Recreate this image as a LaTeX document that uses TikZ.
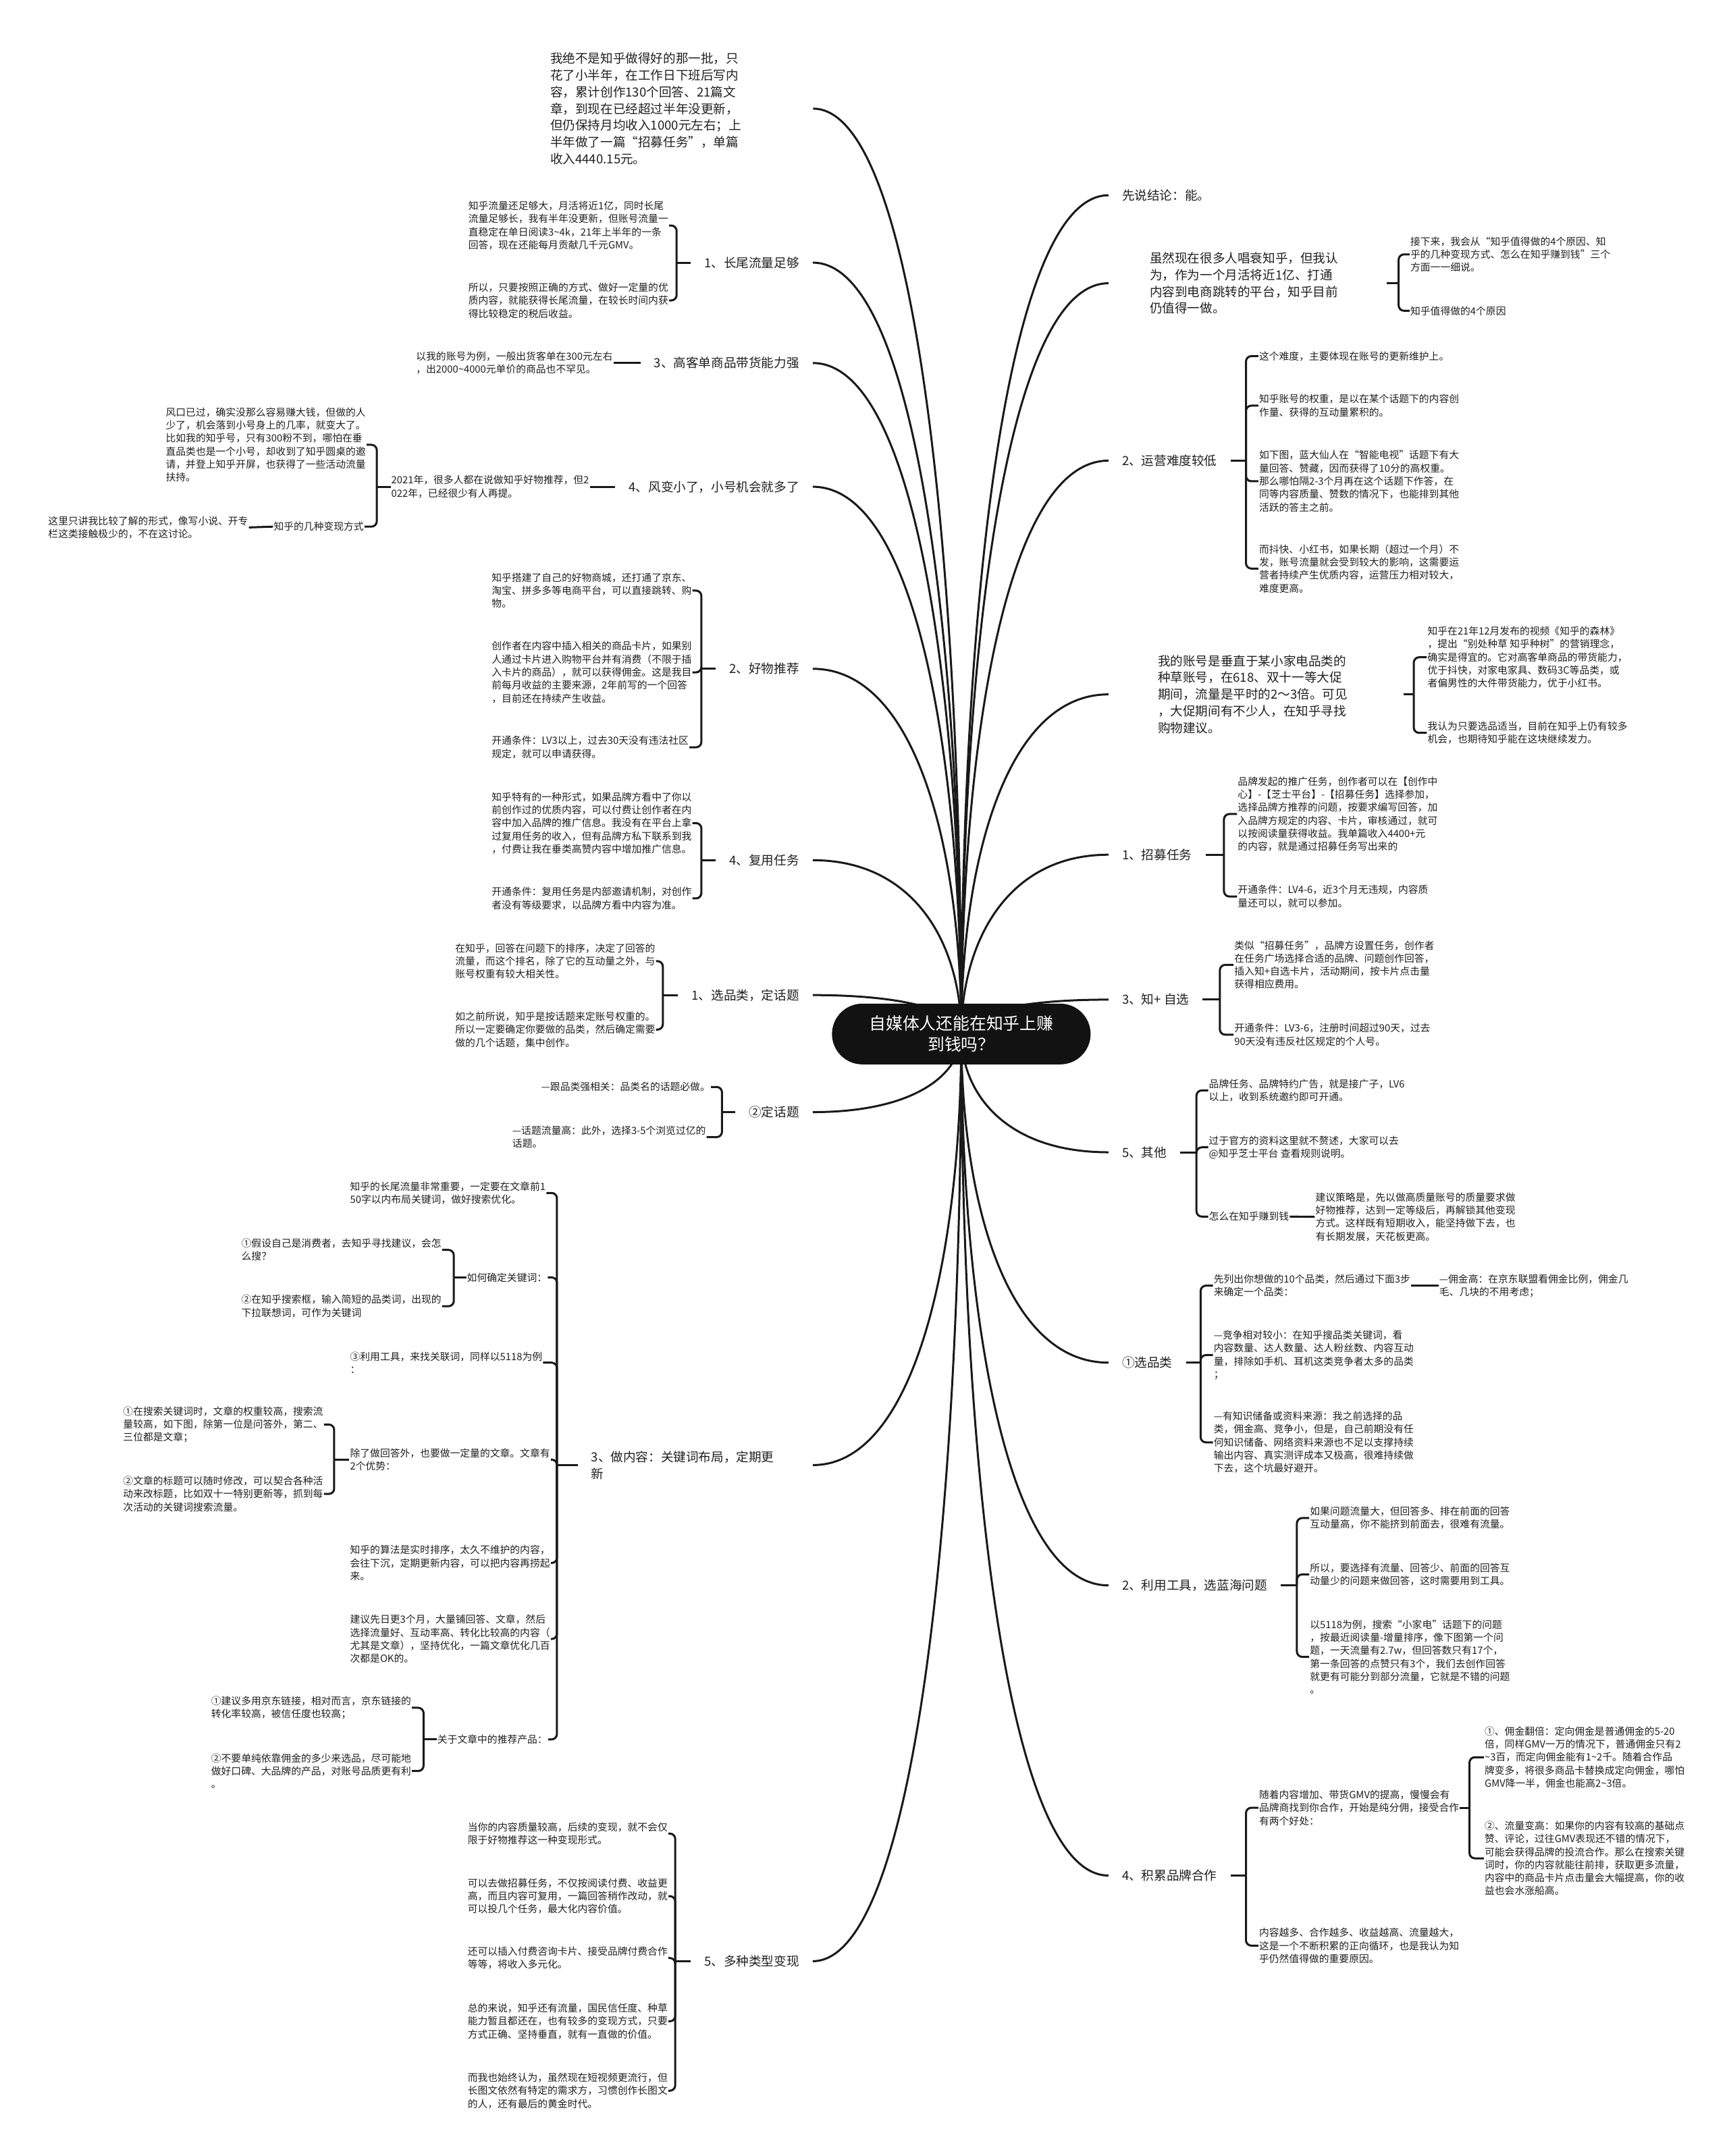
\documentclass[tikz,border=0pt]{standalone}
\usepackage{fontspec}
\setmainfont{Noto Sans CJK SC}
\usetikzlibrary{calc,backgrounds}

\tikzset{
  limb/.style={line width=3pt, draw=black!90},
  tie/.style={line width=3pt, draw=black!90, rounded corners=8pt},
  hubnode/.style={fill=black!93, text=white, rounded corners=45pt,
    minimum width=383pt, minimum height=90pt, align=center,
    font=\fontsize{24.8}{31}\selectfont},
  lead/.style={align=left, inner ysep=0pt, text=black!88,
    font=\fontsize{18.6}{24.8}\selectfont},
  branch/.style={align=left, inner xsep=20pt, inner ysep=2pt, text=black!88,
    font=\fontsize{18.6}{24.8}\selectfont},
  leaf/.style={align=left, inner sep=1pt, anchor=west, text=black!88,
    font=\fontsize{14.8}{19.3}\selectfont},
}

\begin{document}
\begin{tikzpicture}[x=2.0366pt, y=-2.0366pt]
\useasboundingbox (0,0) rectangle (1257,1568);

\node[hubnode] (hub) at (699,752) {自媒体人还能在知乎上赚\\到钱吗？};

% left branches
\node[lead, anchor=west, inner xsep=0pt, text width=389pt] (l1) at (400,79)
  {我绝不是知乎做得好的那一批，只\\花了小半年，在工作日下班后写内\\容，累计创作130个回答、21篇文\\章，到现在已经超过半年没更新，\\但仍保持月均收入1000元左右；上\\半年做了一篇“招募任务”，单篇\\收入4440.15元。};
\node[branch, anchor=east] (l2) at (591,191) {1、长尾流量足够};
\node[branch, anchor=east] (l3) at (591,264) {3、高客单商品带货能力强};
\node[branch, anchor=east] (l4) at (591,354) {4、风变小了，小号机会就多了};
\node[branch, anchor=east] (l5) at (591,486.4) {2、好物推荐};
\node[branch, anchor=east] (l6) at (591,625.6) {4、复用任务};
\node[branch, anchor=east] (l7) at (591,723.7) {1、选品类，定话题};
\node[branch, anchor=east] (l8) at (591,808.8) {②定话题};
\node[branch, anchor=west, text width=308pt] (l9) at (420,1065.5) {3、做内容：关键词布局，定期更\\新};
\node[branch, anchor=east] (l10) at (591,1426.3) {5、多种类型变现};

% right branches
\node[branch, anchor=west] (r1) at (806,142) {先说结论：能。};
\node[lead, anchor=west, inner xsep=61pt, text width=290pt] (r2) at (806,206)
  {虽然现在很多人唱衰知乎，但我认\\为，作为一个月活将近1亿、打通\\内容到电商跳转的平台，知乎目前\\仍值得一做。};
\node[branch, anchor=west] (r3) at (806,335) {2、运营难度较低};
\node[lead, anchor=west, inner xsep=73pt, text width=291pt] (r4) at (806,505)
  {我的账号是垂直于某小家电品类的\\种草账号，在618、双十一等大促\\期间，流量是平时的2～3倍。可见\\，大促期间有不少人，在知乎寻找\\购物建议。};
\node[branch, anchor=west] (r5) at (806,621.6) {1、招募任务};
\node[branch, anchor=west] (r6) at (806,727) {3、知+ 自选};
\node[branch, anchor=west] (r7) at (806,838) {5、其他};
\node[branch, anchor=west] (r8) at (806,991) {①选品类};
\node[branch, anchor=west] (r9) at (806,1153) {2、利用工具，选蓝海问题};
\node[branch, anchor=west] (r10) at (806,1364) {4、积累品牌合作};

% left leaves
\node[leaf] (c2a) at (340,164) {知乎流量还足够大，月活将近1亿，同时长尾\\流量足够长，我有半年没更新，但账号流量一\\直稳定在单日阅读3\textasciitilde4k，21年上半年的一条\\回答，现在还能每月贡献几千元GMV。};
\node[leaf] (c2b) at (340,218.5) {所以，只要按照正确的方式、做好一定量的优\\质内容，就能获得长尾流量，在较长时间内获\\得比较稳定的税后收益。};
\node[leaf] (c3) at (302,264) {以我的账号为例，一般出货客单在300元左右\\，出2000\textasciitilde4000元单价的商品也不罕见。};
\node[leaf] (c4) at (284,354) {2021年，很多人都在说做知乎好物推荐，但2\\022年，已经很少有人再提。};
\node[leaf] (c4a) at (120,323.5) {风口已过，确实没那么容易赚大钱，但做的人\\少了，机会落到小号身上的几率，就变大了。\\比如我的知乎号，只有300粉不到，哪怕在垂\\直品类也是一个小号，却收到了知乎圆桌的邀\\请，并登上知乎开屏，也获得了一些活动流量\\扶持。};
\node[leaf] (c4b) at (198.5,383) {知乎的几种变现方式};
\node[leaf] (c4c) at (34.5,383.6) {这里只讲我比较了解的形式，像写小说、开专\\栏这类接触极少的，不在这讨论。};
\node[leaf] (c5a) at (357,429.5) {知乎搭建了自己的好物商城，还打通了京东、\\淘宝、拼多多等电商平台，可以直接跳转、购\\物。};
\node[leaf] (c5b) at (357,489) {创作者在内容中插入相关的商品卡片，如果别\\人通过卡片进入购物平台并有消费（不限于插\\入卡片的商品），就可以获得佣金。这是我目\\前每月收益的主要来源，2年前写的一个回答\\，目前还在持续产生收益。};
\node[leaf] (c5c) at (357,543.5) {开通条件：LV3以上，过去30天没有违法社区\\规定，就可以申请获得。};
\node[leaf] (c6a) at (357,598.6) {知乎特有的一种形式，如果品牌方看中了你以\\前创作过的优质内容，可以付费让创作者在内\\容中加入品牌的推广信息。我没有在平台上拿\\过复用任务的收入，但有品牌方私下联系到我\\，付费让我在垂类高赞内容中增加推广信息。};
\node[leaf] (c6b) at (357,653.4) {开通条件：复用任务是内部邀请机制，对创作\\者没有等级要求，以品牌方看中内容为准。};
\node[leaf] (c7a) at (330.5,699) {在知乎，回答在问题下的排序，决定了回答的\\流量，而这个排名，除了它的互动量之外，与\\账号权重有较大相关性。};
\node[leaf] (c7b) at (330.5,748.8) {如之前所说，知乎是按话题来定账号权重的。\\所以一定要确定你要做的品类，然后确定需要\\做的几个话题，集中创作。};
\node[leaf] (c8a) at (393,790.5) {—跟品类强相关：品类名的话题必做。};
\node[leaf] (c8b) at (372,827) {—话题流量高：此外，选择3-5个浏览过亿的\\话题。};
\node[leaf] (c9a) at (254,867.6) {知乎的长尾流量非常重要，一定要在文章前1\\50字以内布局关键词，做好搜索优化。};
\node[leaf] (c9b) at (339,929) {如何确定关键词：};
\node[leaf] (c9b1) at (175,909) {①假设自己是消费者，去知乎寻找建议，会怎\\么搜？};
\node[leaf] (c9b2) at (175,950) {②在知乎搜索框，输入简短的品类词，出现的\\下拉联想词，可作为关键词};
\node[leaf] (c9c) at (254,991) {③利用工具，来找关联词，同样以5118为例\\：};
\node[leaf] (c9d) at (254,1061.5) {除了做回答外，也要做一定量的文章。文章有\\2个优势：};
\node[leaf] (c9d1) at (89,1036) {①在搜索关键词时，文章的权重较高，搜索流\\量较高，如下图，除第一位是问答外，第二、\\三位都是文章；};
\node[leaf] (c9d2) at (89,1086.5) {②文章的标题可以随时修改，可以契合各种活\\动来改标题，比如双十一特别更新等，抓到每\\次活动的关键词搜索流量。};
\node[leaf] (c9e) at (254,1136.7) {知乎的算法是实时排序，太久不维护的内容，\\会往下沉，定期更新内容，可以把内容再捞起\\来。};
\node[leaf] (c9f) at (254,1192) {建议先日更3个月，大量铺回答、文章，然后\\选择流量好、互动率高、转化比较高的内容（\\尤其是文章），坚持优化，一篇文章优化几百\\次都是OK的。};
\node[leaf] (c9g) at (317.5,1265) {关于文章中的推荐产品：};
\node[leaf] (c9g1) at (153,1242) {①建议多用京东链接，相对而言，京东链接的\\转化率较高，被信任度也较高；};
\node[leaf] (c9g2) at (153,1288) {②不要单纯依靠佣金的多少来选品，尽可能地\\做好口碑、大品牌的产品，对账号品质更有利\\。};
\node[leaf] (c10a) at (339.5,1333.5) {当你的内容质量较高，后续的变现，就不会仅\\限于好物推荐这一种变现形式。};
\node[leaf] (c10b) at (339.5,1379) {可以去做招募任务，不仅按阅读付费、收益更\\高，而且内容可复用，一篇回答稍作改动，就\\可以投几个任务，最大化内容价值。};
\node[leaf] (c10c) at (339.5,1424) {还可以插入付费咨询卡片、接受品牌付费合作\\等等，将收入多元化。};
\node[leaf] (c10d) at (339.5,1470) {总的来说，知乎还有流量，国民信任度、种草\\能力暂且都还在，也有较多的变现方式，只要\\方式正确、坚持垂直，就有一直做的价值。};
\node[leaf] (c10e) at (339.5,1520.5) {而我也始终认为，虽然现在短视频更流行，但\\长图文依然有特定的需求方，习惯创作长图文\\的人，还有最后的黄金时代。};

% right leaves
\node[leaf] (d2a) at (1025,185) {接下来，我会从“知乎值得做的4个原因、知\\乎的几种变现方式、怎么在知乎赚到钱”三个\\方面一一细说。};
\node[leaf] (d2b) at (1025,226) {知乎值得做的4个原因};
\node[leaf] (d3a) at (915,259) {这个难度，主要体现在账号的更新维护上。};
\node[leaf] (d3b) at (915,295) {知乎账号的权重，是以在某个话题下的内容创\\作量、获得的互动量累积的。};
\node[leaf] (d3c) at (915,350) {如下图，蓝大仙人在“智能电视”话题下有大\\量回答、赞藏，因而获得了10分的高权重。\\那么哪怕隔2-3个月再在这个话题下作答，在\\同等内容质量、赞数的情况下，也能排到其他\\活跃的答主之前。};
\node[leaf] (d3d) at (915,413.5) {而抖快、小红书，如果长期（超过一个月）不\\发，账号流量就会受到较大的影响，这需要运\\营者持续产生优质内容，运营压力相对较大，\\难度更高。};
\node[leaf] (d4a) at (1037.5,478) {知乎在21年12月发布的视频《知乎的森林》\\，提出“别处种草 知乎种树”的营销理念，\\确实是得宜的。它对高客单商品的带货能力，\\优于抖快，对家电家具、数码3C等品类，或\\者偏男性的大件带货能力，优于小红书。};
\node[leaf] (d4b) at (1037.5,533) {我认为只要选品适当，目前在知乎上仍有较多\\机会，也期待知乎能在这块继续发力。};
\node[leaf] (d5a) at (899.5,592) {品牌发起的推广任务，创作者可以在【创作中\\心】-【芝士平台】-【招募任务】选择参加，\\选择品牌方推荐的问题，按要求编写回答，加\\入品牌方规定的内容、卡片，审核通过，就可\\以按阅读量获得收益。我单篇收入4400+元\\的内容，就是通过招募任务写出来的};
\node[leaf] (d5b) at (899.5,652) {开通条件：LV4-6，近3个月无违规，内容质\\量还可以，就可以参加。};
\node[leaf] (d6a) at (897,701.7) {类似“招募任务”，品牌方设置任务，创作者\\在任务广场选择合适的品牌、问题创作回答，\\插入知+自选卡片，活动期间，按卡片点击量\\获得相应费用。};
\node[leaf] (d6b) at (897,752.5) {开通条件：LV3-6，注册时间超过90天，过去\\90天没有违反社区规定的个人号。};
\node[leaf] (d7a) at (878.5,793) {品牌任务、品牌特约广告，就是接广子，LV6\\以上，收到系统邀约即可开通。};
\node[leaf] (d7b) at (878.5,834.4) {过于官方的资料这里就不赘述，大家可以去\\@知乎芝士平台 查看规则说明。};
\node[leaf] (d7c) at (878.5,884.8) {怎么在知乎赚到钱};
\node[leaf] (d7d) at (956,885) {建议策略是，先以做高质量账号的质量要求做\\好物推荐，达到一定等级后，再解锁其他变现\\方式。这样既有短期收入，能坚持做下去，也\\有长期发展，天花板更高。};
\node[leaf] (d8a) at (882,935) {先列出你想做的10个品类，然后通过下面3步\\来确定一个品类：};
\node[leaf] (d8b) at (1046,935) {—佣金高：在京东联盟看佣金比例，佣金几\\毛、几块的不用考虑；};
\node[leaf] (d8c) at (882,985.5) {—竞争相对较小：在知乎搜品类关键词，看\\内容数量、达人数量、达人粉丝数、内容互动\\量，排除如手机、耳机这类竞争者太多的品类\\；};
\node[leaf] (d8d) at (882,1049) {—有知识储备或资料来源：我之前选择的品\\类，佣金高、竞争小，但是，自己前期没有任\\何知识储备、网络资料来源也不足以支撑持续\\输出内容、真实测评成本又极高，很难持续做\\下去，这个坑最好避开。};
\node[leaf] (d9a) at (952,1104) {如果问题流量大，但回答多、排在前面的回答\\互动量高，你不能挤到前面去，很难有流量。};
\node[leaf] (d9b) at (952,1145) {所以，要选择有流量、回答少、前面的回答互\\动量少的问题来做回答，这时需要用到工具。};
\node[leaf] (d9c) at (952,1205) {以5118为例，搜索“小家电”话题下的问题\\，按最近阅读量-增量排序，像下图第一个问\\题，一天流量有2.7w，但回答数只有17个，\\第一条回答的点赞只有3个，我们去创作回答\\就更有可能分到部分流量，它就是不错的问题\\。};
\node[leaf] (d10a) at (915,1314.7) {随着内容增加、带货GMV的提高，慢慢会有\\品牌商找到你合作，开始是纯分佣，接受合作\\有两个好处：};
\node[leaf] (d10a1) at (1079,1278) {①、佣金翻倍：定向佣金是普通佣金的5-20\\倍，同样GMV一万的情况下，普通佣金只有2\\\textasciitilde3百，而定向佣金能有1\textasciitilde2千。随着合作品\\牌变多，将很多商品卡替换成定向佣金，哪怕\\GMV降一半，佣金也能高2\textasciitilde3倍。};
\node[leaf] (d10a2) at (1079,1351.5) {②、流量变高：如果你的内容有较高的基础点\\赞、评论，过往GMV表现还不错的情况下，\\可能会获得品牌的投流合作。那么在搜索关键\\词时，你的内容就能往前排，获取更多流量，\\内容中的商品卡片点击量会大幅提高，你的收\\益也会水涨船高。};
\node[leaf] (d10b) at (915,1415) {内容越多、合作越多、收益越高、流量越大，\\这是一个不断积累的正向循环，也是我认为知\\乎仍然值得做的重要原因。};

% main curves
\begin{scope}[on background layer]
\foreach \n in {l1,l2,l3,l4,l5,l6,l7,l8,l9,l10}
  \draw[limb] (hub.center) .. controls ($(hub.center)!0.5!(hub.center |- \n.east)$)
    and ($(\n.east)!0.7!(hub.center |- \n.east)$) .. (\n.east);
\foreach \n in {r1,r2,r3,r4,r5,r6,r7,r8,r9,r10}
  \draw[limb] (hub.center) .. controls ($(hub.center)!0.5!(hub.center |- \n.west)$)
    and ($(\n.west)!0.7!(hub.center |- \n.west)$) .. (\n.west);
\end{scope}

% brackets, left
\coordinate (k2) at (492,191);
\coordinate (k4) at (274,354);
\coordinate (k5) at (510,486.4);
\coordinate (k6) at (510,625.6);
\coordinate (k7) at (482,723.7);
\coordinate (k8) at (525,808.8);
\coordinate (k9) at (405,1065.5);
\coordinate (k9b) at (330,929);
\coordinate (k9d) at (243,1061.5);
\coordinate (k9g) at (308,1265);
\coordinate (k10) at (491,1426.3);

\draw[tie] (l2.west) -- (k2);
\foreach \c in {c2a,c2b} \draw[tie] (k2) |- (\c.east);
\draw[tie] (c3.east) -- (l3.west);
\draw[tie] (c4.east) -- (l4.west);
\draw[tie] (c4.west) -- (k4);
\foreach \c in {c4a,c4b} \draw[tie] (k4) |- (\c.east);
\draw[tie] (c4c.east) -- (c4b.west);
\draw[tie] (l5.west) -- (k5);
\foreach \c in {c5a,c5b,c5c} \draw[tie] (k5) |- (\c.east);
\draw[tie] (l6.west) -- (k6);
\foreach \c in {c6a,c6b} \draw[tie] (k6) |- (\c.east);
\draw[tie] (l7.west) -- (k7);
\foreach \c in {c7a,c7b} \draw[tie] (k7) |- (\c.east);
\draw[tie] (l8.west) -- (k8);
\foreach \c in {c8a,c8b} \draw[tie] (k8) |- (\c.east);
\draw[tie] (l9.west) -- (k9);
\foreach \c in {c9a,c9b,c9c,c9d,c9e,c9f,c9g} \draw[tie] (k9) |- (\c.east);
\draw[tie] (c9b.west) -- (k9b);
\foreach \c in {c9b1,c9b2} \draw[tie] (k9b) |- (\c.east);
\draw[tie] (c9d.west) -- (k9d);
\foreach \c in {c9d1,c9d2} \draw[tie] (k9d) |- (\c.east);
\draw[tie] (c9g.west) -- (k9g);
\foreach \c in {c9g1,c9g2} \draw[tie] (k9g) |- (\c.east);
\draw[tie] (l10.west) -- (k10);
\foreach \c in {c10a,c10b,c10c,c10d,c10e} \draw[tie] (k10) |- (\c.east);

% brackets, right
\coordinate (q2) at (1017,206);
\coordinate (q3) at (906,335);
\coordinate (q4) at (1028,505);
\coordinate (q5) at (890,621.6);
\coordinate (q6) at (887,727);
\coordinate (q7) at (870,838);
\coordinate (q8) at (873,991);
\coordinate (q9) at (943,1153);
\coordinate (q10) at (906,1364);
\coordinate (q10a) at (1068.5,1314.7);

\draw[tie] (r2.east) -- (q2);
\foreach \c in {d2a,d2b} \draw[tie] (q2) |- (\c.west);
\draw[tie] (r3.east) -- (q3);
\foreach \c in {d3a,d3b,d3c,d3d} \draw[tie] (q3) |- (\c.west);
\draw[tie] (r4.east) -- (q4);
\foreach \c in {d4a,d4b} \draw[tie] (q4) |- (\c.west);
\draw[tie] (r5.east) -- (q5);
\foreach \c in {d5a,d5b} \draw[tie] (q5) |- (\c.west);
\draw[tie] (r6.east) -- (q6);
\foreach \c in {d6a,d6b} \draw[tie] (q6) |- (\c.west);
\draw[tie] (r7.east) -- (q7);
\foreach \c in {d7a,d7b,d7c} \draw[tie] (q7) |- (\c.west);
\draw[tie] (d7c.east) -- (d7d.west);
\draw[tie] (r8.east) -- (q8);
\foreach \c in {d8a,d8c,d8d} \draw[tie] (q8) |- (\c.west);
\draw[tie] (d8a.east) -- (d8b.west);
\draw[tie] (r9.east) -- (q9);
\foreach \c in {d9a,d9b,d9c} \draw[tie] (q9) |- (\c.west);
\draw[tie] (r10.east) -- (q10);
\foreach \c in {d10a,d10b} \draw[tie] (q10) |- (\c.west);
\draw[tie] (d10a.east) -- (q10a);
\foreach \c in {d10a1,d10a2} \draw[tie] (q10a) |- (\c.west);
\end{tikzpicture}
\end{document}
